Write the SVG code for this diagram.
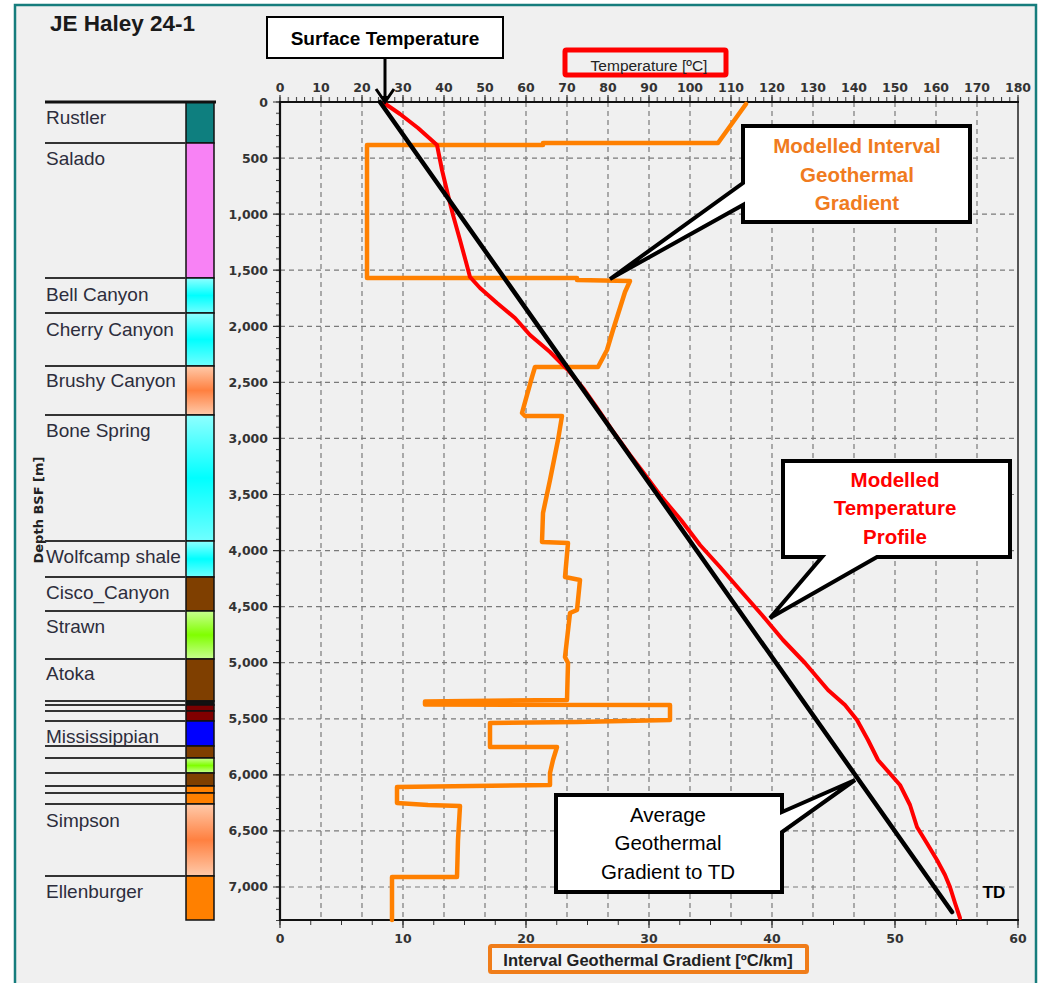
<svg xmlns="http://www.w3.org/2000/svg" width="1041" height="983" viewBox="0 0 1041 983">
<style>
.tick{font-family:"DejaVu Sans",sans-serif;font-weight:bold;font-size:12.5px;fill:#333}
.strat{font-family:"Liberation Sans",Arial,sans-serif;font-size:19px;fill:#2d2d3c}
.sep{stroke:#333;stroke-width:2}
.lay{stroke:#111;stroke-width:1.5}
.grid{stroke:#7a7a7a;stroke-width:1.2;stroke-dasharray:5 4;fill:none}
.co{fill:#fff;stroke:#000;stroke-width:4;stroke-linejoin:miter}
.cot{font-family:"Liberation Sans",Arial,sans-serif;font-size:20.5px;font-weight:bold;text-anchor:middle}
.curve{fill:none;stroke-linejoin:round;stroke-linecap:round}
</style>
<defs>
<linearGradient id="cyanG" x1="0" y1="0" x2="0" y2="1"><stop offset="0" stop-color="#90ffff"/><stop offset="0.5" stop-color="#00ffff"/><stop offset="1" stop-color="#70ffff"/></linearGradient>
<linearGradient id="salG" x1="0" y1="0" x2="0" y2="1"><stop offset="0" stop-color="#ffcaaa"/><stop offset="0.5" stop-color="#ff8040"/><stop offset="1" stop-color="#ffcaaa"/></linearGradient>
<linearGradient id="limeG" x1="0" y1="0" x2="0" y2="1"><stop offset="0" stop-color="#c8ff90"/><stop offset="0.5" stop-color="#80ff00"/><stop offset="1" stop-color="#c8ff90"/></linearGradient>
<pattern id="topT" x="279.5" y="97" width="8.2" height="5" patternUnits="userSpaceOnUse"><rect width="1" height="5" fill="#333"/></pattern>
<pattern id="leftT" x="276" y="101.5" width="4" height="11.214" patternUnits="userSpaceOnUse"><rect width="4" height="1" fill="#333"/></pattern>
<pattern id="botT" x="279.5" y="920" width="30.75" height="5" patternUnits="userSpaceOnUse"><rect width="1" height="5" fill="#333"/></pattern>
</defs>

<rect x="0" y="0" width="1041" height="983" fill="#ffffff"/>
<rect id="frame" x="15" y="5" width="1021" height="990" fill="#f0f0f0" stroke="#167d7d" stroke-width="2.5"/>

<text id="title" x="50" y="31" font-family="Liberation Sans,Arial,sans-serif" font-weight="bold" font-size="22.5" fill="#1a1a1a">JE Haley 24-1</text>

<!-- Plot grid -->
<g id="grid">
<path class="grid" d="M321,102V920M362,102V920M403,102V920M444,102V920M485,102V920M526,102V920M567,102V920M608,102V920M649,102V920M690,102V920M731,102V920M772,102V920M813,102V920M854,102V920M895,102V920M936,102V920M977,102V920"/>
<path class="grid" d="M280,158.1H1018M280,214.1H1018M280,270.2H1018M280,326.3H1018M280,382.4H1018M280,438.4H1018M280,494.5H1018M280,550.6H1018M280,606.6H1018M280,662.7H1018M280,718.8H1018M280,774.8H1018M280,830.9H1018M280,887H1018"/>
</g>

<!-- Axes -->
<g id="axes">
<rect x="279" y="97" width="741" height="5" fill="url(#topT)"/>
<rect x="276" y="101" width="4" height="820" fill="url(#leftT)"/>
<rect x="279" y="920" width="741" height="5" fill="url(#botT)"/>
<path d="M280,95V102M321,95V102M362,95V102M403,95V102M444,95V102M485,95V102M526,95V102M567,95V102M608,95V102M649,95V102M690,95V102M731,95V102M772,95V102M813,95V102M854,95V102M895,95V102M936,95V102M977,95V102M1018,95V102" stroke="#333" stroke-width="1.2"/>
<path d="M273,102H280M273,158.1H280M273,214.1H280M273,270.2H280M273,326.3H280M273,382.4H280M273,438.4H280M273,494.5H280M273,550.6H280M273,606.6H280M273,662.7H280M273,718.8H280M273,774.8H280M273,830.9H280M273,887H280" stroke="#333" stroke-width="1.2"/>
<path d="M280,920V928M403,920V928M526,920V928M649,920V928M772,920V928M895,920V928M1018,920V928" stroke="#333" stroke-width="1.2"/>
<line x1="1018" y1="102" x2="1018" y2="920" stroke="#555" stroke-width="2"/>
<line x1="279" y1="102" x2="1019" y2="102" stroke="#111" stroke-width="2"/>
<line x1="280" y1="101" x2="280" y2="921" stroke="#111" stroke-width="2.2"/>
<line x1="279" y1="920" x2="1019" y2="920" stroke="#111" stroke-width="2.2"/>
</g>

<g id="top-axis-labels" class="tick" text-anchor="middle">
<text x="280" y="92">0</text><text x="321" y="92">10</text><text x="362" y="92">20</text><text x="403" y="92">30</text><text x="444" y="92">40</text><text x="485" y="92">50</text><text x="526" y="92">60</text><text x="567" y="92">70</text><text x="608" y="92">80</text><text x="649" y="92">90</text><text x="690" y="92">100</text><text x="731" y="92">110</text><text x="772" y="92">120</text><text x="813" y="92">130</text><text x="854" y="92">140</text><text x="895" y="92">150</text><text x="936" y="92">160</text><text x="977" y="92">170</text><text x="1018" y="92">180</text>
</g>
<g id="left-axis-labels" class="tick" text-anchor="end">
<text x="268" y="107">0</text><text x="268" y="163">500</text><text x="268" y="219">1,000</text><text x="268" y="275">1,500</text><text x="268" y="331">2,000</text><text x="268" y="387">2,500</text><text x="268" y="443">3,000</text><text x="268" y="499">3,500</text><text x="268" y="555">4,000</text><text x="268" y="611">4,500</text><text x="268" y="667">5,000</text><text x="268" y="723">5,500</text><text x="268" y="779">6,000</text><text x="268" y="835">6,500</text><text x="268" y="891">7,000</text>
</g>
<g id="bottom-axis-labels" class="tick" text-anchor="middle">
<text x="280" y="943">0</text><text x="403" y="943">10</text><text x="526" y="943">20</text><text x="649" y="943">30</text><text x="772" y="943">40</text><text x="895" y="943">50</text><text x="1018" y="943">60</text>
</g>

<text id="depth-label" transform="translate(43,510) rotate(-90)" text-anchor="middle" font-family="DejaVu Sans,sans-serif" font-weight="bold" font-size="13" fill="#222">Depth BSF [m]</text>

<g id="temp-axis-title">
<rect x="565" y="50" width="161" height="25" fill="none" stroke="#ff0000" stroke-width="5" rx="1.5"/>
<text x="649" y="70.5" text-anchor="middle" font-family="Liberation Sans,Arial,sans-serif" font-size="15.5" fill="#222">Temperature [ºC]</text>
</g>
<g id="gradient-axis-title">
<rect x="490" y="946" width="317" height="26" fill="#f4f4f4" stroke="#f07d1a" stroke-width="4" rx="1.5"/>
<text x="648" y="965.5" text-anchor="middle" font-family="Liberation Sans,Arial,sans-serif" font-weight="bold" font-size="16.5" fill="#222">Interval Geothermal Gradient [ºC/km]</text>
</g>

<!-- Stratigraphic column -->
<g id="strat-column">
<rect class="lay" x="186" y="102" width="28" height="41" fill="#0e7f7f"/>
<rect class="lay" x="186" y="143" width="28" height="135" fill="#f882f5"/>
<rect class="lay" x="186" y="278" width="28" height="35" fill="url(#cyanG)"/>
<rect class="lay" x="186" y="313" width="28" height="53" fill="url(#cyanG)"/>
<rect class="lay" x="186" y="366" width="28" height="49" fill="url(#salG)"/>
<rect class="lay" x="186" y="415" width="28" height="126" fill="url(#cyanG)"/>
<rect class="lay" x="186" y="541" width="28" height="36" fill="url(#cyanG)"/>
<rect class="lay" x="186" y="577" width="28" height="34" fill="#7f3f00"/>
<rect class="lay" x="186" y="611" width="28" height="48" fill="url(#limeG)"/>
<rect class="lay" x="186" y="659" width="28" height="42" fill="#7f3f00"/>
<rect class="lay" x="186" y="701" width="28" height="4" fill="#111"/>
<rect class="lay" x="186" y="705" width="28" height="6" fill="#7a0000"/>
<rect class="lay" x="186" y="711" width="28" height="10" fill="#800000"/>
<rect class="lay" x="186" y="721" width="28" height="25" fill="#0000ff"/>
<rect class="lay" x="186" y="746" width="28" height="12" fill="#7f3f00"/>
<rect class="lay" x="186" y="758" width="28" height="15" fill="url(#limeG)"/>
<rect class="lay" x="186" y="773" width="28" height="13" fill="#7f3f00"/>
<rect class="lay" x="186" y="786" width="28" height="7" fill="#ff8000"/>
<rect class="lay" x="186" y="793" width="28" height="11" fill="#ff8000"/>
<rect class="lay" x="186" y="804" width="28" height="72" fill="url(#salG)"/>
<rect class="lay" x="186" y="876" width="28" height="44" fill="#ff8000"/>
<path class="sep" d="M45,143H186M45,278H186M45,313H186M45,366H186M45,415H186M45,541H186M45,577H186M45,611H186M45,659H186M45,701H186M45,705H186M45,711H186M45,721H186M45,746H186M45,758H186M45,773H186M45,786H186M45,793H186M45,804H186M45,876H186"/>
<line x1="45" y1="102" x2="216" y2="102" stroke="#111" stroke-width="3"/>
</g>
<g id="strat-labels" class="strat">
<text x="46" y="124">Rustler</text>
<text x="46" y="165">Salado</text>
<text x="46" y="301">Bell Canyon</text>
<text x="46" y="336">Cherry Canyon</text>
<text x="46" y="387">Brushy Canyon</text>
<text x="46" y="437">Bone Spring</text>
<text x="46" y="563">Wolfcamp shale</text>
<text x="46" y="599">Cisco_Canyon</text>
<text x="46" y="633">Strawn</text>
<text x="46" y="680">Atoka</text>
<text x="46" y="743">Mississippian</text>
<text x="46" y="827">Simpson</text>
<text x="46" y="898">Ellenburger</text>
</g>

<!-- Curves -->
<g id="interval-gradient-curve">
<polyline class="curve" stroke="#ff8000" stroke-width="4.5" points="746,104 718,143 543,143 543,145 367,145 367,278 577,278 577,280 630,281 625,292 613,330 607,350 598,367 535,367 532,377 522,413 525,416 562,416 558,440 550,480 543,513 542,542 568,543 565,577 580,580 577,610 570,613 565,657 568,663 567,700 425,701.5 425,704.5 670,705 670,720 577,722 490,723 490,747 557,747 553,760 550,773 550,785 397,787 397,803 428,805 460,806 458,840 457,877 392,877 392,920"/>
</g>
<g id="temperature-profile">
<polyline class="curve" stroke="#ff0000" stroke-width="4" points="384,103 400,114 418,128 437,145 442,170 448,195 453,215 460,240 466,262 470,277 480,288 497,303 515,318 530,335 550,352 568,370 583,388 597,408 612,430 630,455 643,472 660,495 681,520 700,545 720,567 740,590 762,615 783,640 805,663 828,690 845,705 857,720 868,740 878,760 900,785 910,805 917,827 928,845 937,860 945,875 950,887 955,903 960,918"/>
</g>
<g id="average-gradient">
<line x1="380" y1="102" x2="952" y2="912" stroke="#000" stroke-width="4.5" stroke-linecap="round"/>
</g>

<!-- Connectors -->
<g id="connectors">
<line x1="385" y1="58" x2="385" y2="99" stroke="#000" stroke-width="3"/>
<polyline points="376,89 385,102 394,89" fill="none" stroke="#000" stroke-width="3" stroke-linejoin="miter"/>
<polygon points="380,96 385,103 390,96" fill="#000"/>
</g>

<!-- Callouts -->
<g id="surface-temperature">
<rect x="267" y="17" width="236" height="41" fill="#fff" stroke="#000" stroke-width="2"/>
<text x="385" y="45" text-anchor="middle" font-family="Liberation Sans,Arial,sans-serif" font-weight="bold" font-size="19" fill="#000">Surface Temperature</text>
</g>
<g id="callout-interval">
<path class="co" d="M743,126H970V222H743V205L610,279L743,183Z"/>
<text class="cot" fill="#f07b20"><tspan x="857" y="153">Modelled Interval</tspan><tspan x="857" y="182">Geothermal</tspan><tspan x="857" y="210">Gradient</tspan></text>
</g>
<g id="callout-temperature">
<path class="co" d="M783,461H1010V557H877L770,618L822,557H783Z"/>
<text class="cot" fill="#ff0000"><tspan x="895" y="487">Modelled</tspan><tspan x="895" y="515">Temperature</tspan><tspan x="895" y="544">Profile</tspan></text>
</g>
<g id="callout-average">
<path class="co" d="M556,795H782V812L855,780L782,832V892H556Z"/>
<text font-family="Liberation Sans,Arial,sans-serif" font-size="20.5" fill="#000" text-anchor="middle"><tspan x="668" y="822">Average</tspan><tspan x="668" y="850">Geothermal</tspan><tspan x="668" y="879">Gradient to TD</tspan></text>
</g>
<text id="td-label" x="994" y="898" text-anchor="middle" font-family="Liberation Sans,Arial,sans-serif" font-weight="bold" font-size="17" fill="#000">TD</text>
</svg>
